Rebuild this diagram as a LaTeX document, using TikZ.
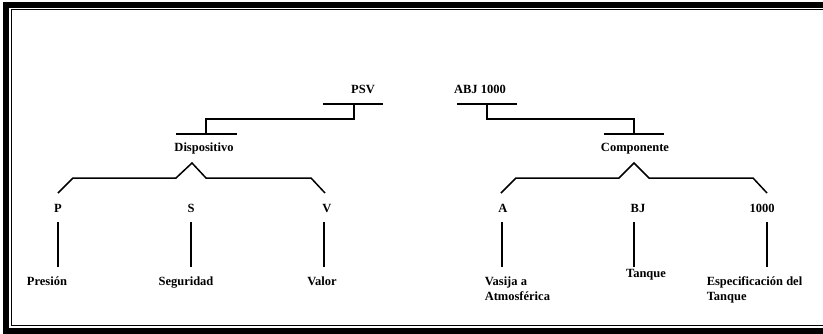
\documentclass[tikz,border=0pt]{standalone}
\usepackage{fontspec}
\setmainfont{Liberation Serif}

\begin{document}
\begin{tikzpicture}[x=1pt, y=-1pt, line width=1.5pt,
  every node/.style={font=\bfseries\fontsize{12.5}{15}\selectfont, inner sep=0pt, anchor=base}]
  \useasboundingbox (0,0) rectangle (823,333);
  % frame (its right side lies outside the picture)
  \draw[line width=6pt] (823,5) -- (6,5) -- (6,331) -- (823,331);
  \draw[line width=1.3pt] (823,9.8) -- (11.5,9.8) -- (11.5,325.8) -- (823,325.8);
  % top level
  \node (psv) at (363,93) {PSV};
  \node (abj) at (480,93) {ABJ 1000};
  \node (disp) at (204,151) {Dispositivo};
  \node (comp) at (635,151) {Componente};
  % letters
  \node (p) at (58,212) {P};
  \node (s) at (191,212) {S};
  \node (v) at (327,212) {V};
  \node (a) at (503,212) {A};
  \node (bj) at (638,212) {BJ};
  \node (n1000) at (762,212) {1000};
  % meanings
  \node (pres) at (47,285) {Presión};
  \node (seg) at (186,285) {Seguridad};
  \node (val) at (322,285) {Valor};
  \node[anchor=north west, align=left] (vas) at (484,276) {Vasija a\\Atmosférica};
  \node (tan) at (646,277) {Tanque};
  \node[anchor=north west, align=left] (esp) at (706,276) {Especificación del\\Tanque};
  % bars
  \coordinate (psvbar) at (354,104);
  \coordinate (abjbar) at (487,104);
  \coordinate (dispbar) at (206,134);
  \coordinate (compbar) at (634,134);
  \draw (323,104) -- (383,104);
  \draw (457,104) -- (517,104);
  \draw (176,134) -- (237,134);
  \draw (604,134) -- (664,134);
  \draw (psvbar) -- ++(0,15) -| (dispbar);
  \draw (abjbar) -- ++(0,15) -| (compbar);
  % braces
  \draw (58,193) -- (73,178) -- (176,178) -- (192,163) -- (206,178) -- (311,178) -- (325,193);
  \draw (501,193) -- (516,178) -- (619,178) -- (634,163) -- (649,178) -- (753,178) -- (767,193);
  % stems
  \draw (p.base) ++(0,10) -- ++(0,45);
  \draw (s.base) ++(0,10) -- ++(0,45);
  \draw (v.base) ++(-3,10) -- ++(0,45);
  \draw (a.base) ++(-1,10) -- ++(0,45);
  \draw (bj.base) ++(-4,10) -- ++(0,45);
  \draw (n1000.base) ++(5,10) -- ++(0,45);
\end{tikzpicture}
\end{document}
